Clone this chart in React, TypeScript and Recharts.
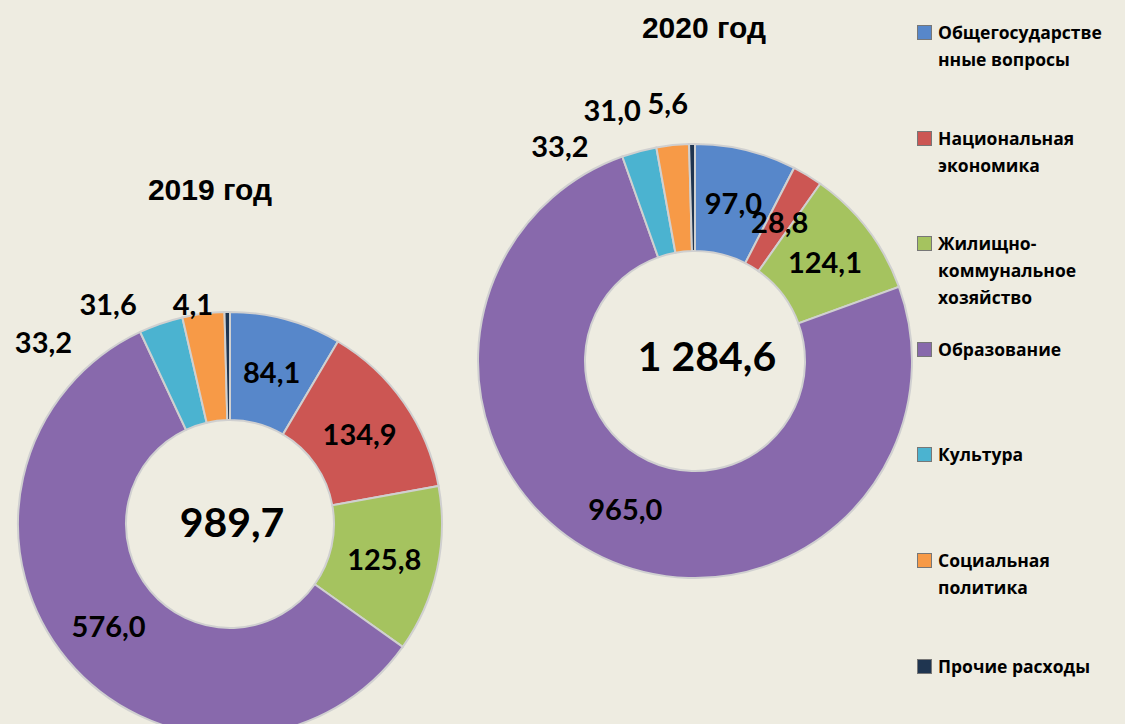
import { PieChart, Pie, Cell, Legend } from 'recharts'

// Budget expenditure structure, mln rub
const categories = [
  'Общегосударственные вопросы',
  'Национальная экономика',
  'Жилищно-коммунальное хозяйство',
  'Образование',
  'Культура',
  'Социальная политика',
  'Прочие расходы'
]

// how the legend wraps each name
const legendLines = [
  ['Общегосударстве', 'нные вопросы'],
  ['Национальная', 'экономика'],
  ['Жилищно-', 'коммунальное', 'хозяйство'],
  ['Образование'],
  ['Культура'],
  ['Социальная', 'политика'],
  ['Прочие расходы']
]

const values2019 = [84.1, 134.9, 125.8, 576.0, 33.2, 31.6, 4.1]
const values2020 = [97.0, 28.8, 124.1, 965.0, 33.2, 31.0, 5.6]

const total2019 = 989.7
const total2020 = 1284.6

const colors = ['#5787CA', '#CC5653', '#A5C35F', '#8869AC', '#4BB3D0', '#F79A47', '#1F3550']

// small slices have their labels dragged outside the ring
const labelShift2019 = [[0, 0], [0, 0], [0, 0], [0, 0], [-135, -33], [-102, -64], [-35, -63]]
const labelShift2020 = [[0, 0], [0, 0], [0, 0], [0, 0], [-93, -58], [-66, -89], [-25, -95]]

const data2019 = categories.map((name, i) => ({ name, value: values2019[i] }))
const data2020 = categories.map((name, i) => ({ name, value: values2020[i] }))

// ring geometry
const ring2019 = { cx: 225, cy: 519, inner: 104, outer: 212 }
const ring2020 = { cx: 690, cy: 356, inner: 110, outer: 217 }

const BG = '#EEECE1'
const NUM_FONT = 'Lato, Calibri, "Noto Sans", sans-serif'
const LEGEND_FONT = '"Open Sans", "Noto Sans", sans-serif'
const RADIAN = Math.PI / 180

const fmt = (v: number) => {
  const [int, dec] = v.toFixed(1).split('.')
  return int.replace(/\B(?=(\d{3})+(?!\d))/g, ' ') + ',' + dec
}

const makeLabel = (shifts: number[][]) => (props: any) => {
  const { cx, cy, midAngle, innerRadius, outerRadius, index, value } = props
  const r = (innerRadius + outerRadius) / 2
  const x = cx + r * Math.cos(-midAngle * RADIAN) + shifts[index][0]
  const y = cy + r * Math.sin(-midAngle * RADIAN) + shifts[index][1]
  return (
    <text
      x={x}
      y={y}
      textAnchor="middle"
      dominantBaseline="central"
      fill="#000"
      style={{ fontFamily: NUM_FONT, fontWeight: 700, fontSize: 29 }}
    >
      {fmt(value)}
    </text>
  )
}

const LegendBox = () => (
  <div style={{ fontFamily: LEGEND_FONT, fontWeight: 700, fontSize: 17.5, color: '#000' }}>
    {categories.map((name, i) => (
      <div key={name} style={{ position: 'absolute', top: i * 105.6, left: 0, width: 210 }}>
        <div
          style={{
            position: 'absolute',
            left: 0,
            top: 6,
            width: 13,
            height: 13,
            background: colors[i],
            border: '1px solid #777'
          }}
        />
        <div style={{ position: 'absolute', left: 21, top: 0, lineHeight: '27px', whiteSpace: 'nowrap' }}>
          {legendLines[i].map((line) => (
            <div key={line}>{line}</div>
          ))}
        </div>
      </div>
    ))}
  </div>
)

const centerStyle: React.CSSProperties = {
  position: 'absolute',
  fontFamily: NUM_FONT,
  fontWeight: 700,
  fontSize: 41,
  color: '#000',
  transform: 'translate(-50%, -50%)',
  whiteSpace: 'nowrap'
}

const titleStyle: React.CSSProperties = {
  position: 'absolute',
  fontFamily: '"Liberation Sans", Arial, sans-serif',
  fontWeight: 700,
  fontSize: 30,
  color: '#000',
  transform: 'translate(-50%, -50%)',
  whiteSpace: 'nowrap'
}

export default function App() {
  return (
    <div style={{ position: 'absolute', left: 0, top: 0, width: 1125, height: 724, background: BG, overflow: 'hidden' }}>
      <PieChart width={1125} height={724} style={{ position: 'absolute', left: 0, top: 0 }}>
        <Pie
          data={data2019}
          dataKey="value"
          nameKey="name"
          cx={ring2019.cx}
          cy={ring2019.cy}
          innerRadius={ring2019.inner}
          outerRadius={ring2019.outer}
          startAngle={90}
          endAngle={-270}
          stroke="#D0D0D0"
          strokeWidth={2}
          label={makeLabel(labelShift2019)}
          labelLine={false}
          isAnimationActive={false}
        >
          {data2019.map((d, i) => (
            <Cell key={d.name} fill={colors[i]} />
          ))}
        </Pie>
        <Pie
          data={data2020}
          dataKey="value"
          nameKey="name"
          cx={ring2020.cx}
          cy={ring2020.cy}
          innerRadius={ring2020.inner}
          outerRadius={ring2020.outer}
          startAngle={90}
          endAngle={-270}
          stroke="#D0D0D0"
          strokeWidth={2}
          label={makeLabel(labelShift2020)}
          labelLine={false}
          isAnimationActive={false}
        >
          {data2020.map((d, i) => (
            <Cell key={d.name} fill={colors[i]} />
          ))}
        </Pie>
        <Legend
          content={() => <LegendBox />}
          wrapperStyle={{ position: 'absolute', left: 917, top: 19, width: 210, height: 700 }}
        />
      </PieChart>
      <div style={{ ...titleStyle, left: 210, top: 190 }}>2019 год</div>
      <div style={{ ...titleStyle, left: 704, top: 28 }}>2020 год</div>
      <div style={{ ...centerStyle, left: ring2019.cx + 7, top: ring2019.cy + 2 }}>{fmt(total2019)}</div>
      <div style={{ ...centerStyle, left: ring2020.cx + 17, top: ring2020.cy - 1 }}>{fmt(total2020)}</div>
    </div>
  )
}
